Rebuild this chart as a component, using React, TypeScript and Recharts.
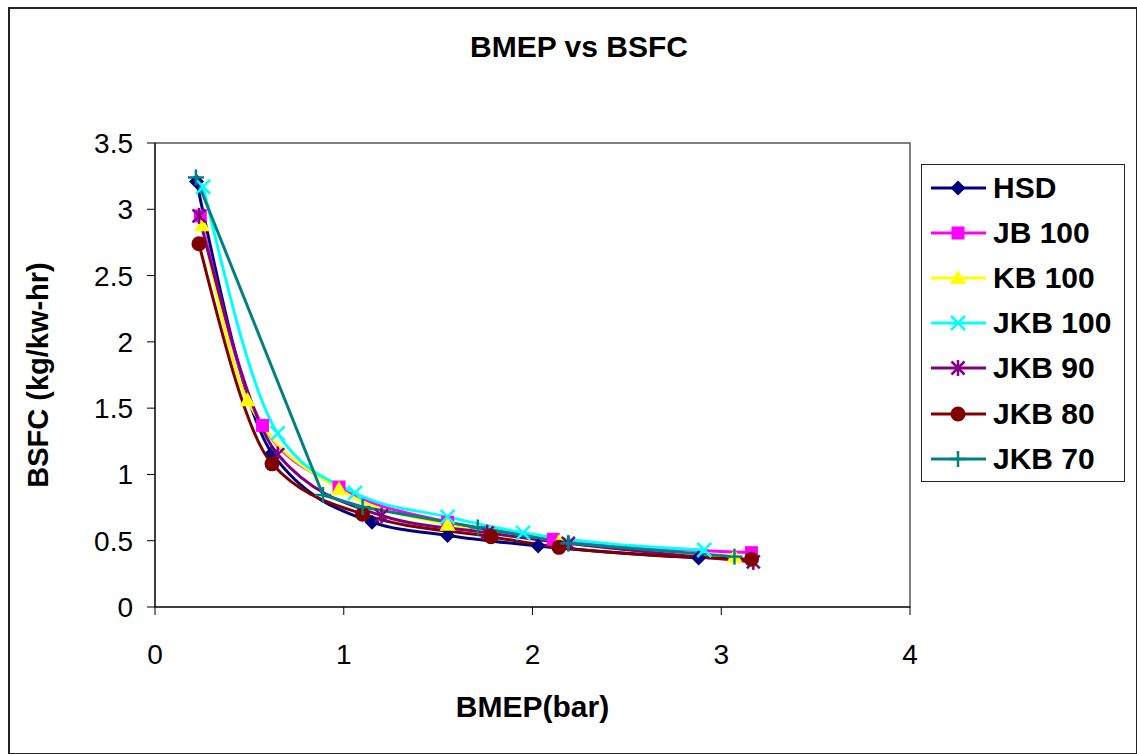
import React from "react";
import {
  LineChart,
  Line,
  XAxis,
  YAxis,
  Legend,
  ReferenceArea,
  Label,
} from "recharts";

// values (BMEP in bar, BSFC in kg/kw-hr)
const HSD_X = [0.22, 0.62, 1.15, 1.55, 2.03, 2.88];
const HSD_Y = [3.21, 1.16, 0.64, 0.54, 0.46, 0.37];
const JB100_X = [0.24, 0.57, 0.975, 1.55, 2.11, 3.16];
const JB100_Y = [2.95, 1.37, 0.905, 0.64, 0.51, 0.41];
const KB100_X = [0.25, 0.49, 0.975, 1.55, 2.14, 3.07];
const KB100_Y = [2.88, 1.56, 0.89, 0.62, 0.49, 0.38];
const JKB100_X = [0.255, 0.65, 1.06, 1.55, 1.95, 2.91];
const JKB100_Y = [3.17, 1.31, 0.86, 0.68, 0.56, 0.43];
const JKB90_X = [0.233, 0.65, 1.2, 1.76, 2.19, 3.17];
const JKB90_Y = [2.95, 1.15, 0.69, 0.56, 0.48, 0.34];
const JKB80_X = [0.233, 0.62, 1.1, 1.78, 2.14, 3.16];
const JKB80_Y = [2.74, 1.08, 0.7, 0.53, 0.45, 0.36];
const JKB70_X = [0.217, 0.89, 1.1, 1.71, 2.19, 3.07];
const JKB70_Y = [3.24, 0.845, 0.754, 0.6, 0.48, 0.38];

const X_TICKS = [0, 1, 2, 3, 4];
const Y_TICKS = [0, 0.5, 1, 1.5, 2, 2.5, 3, 3.5];

const FONT = "'Liberation Sans', Arial, Helvetica, sans-serif";

type Shape = "diamond" | "square" | "triangle" | "x" | "star" | "circle" | "plus";

const zip = (xs: number[], ys: number[]) => xs.map((x, i) => ({ x, y: ys[i] }));

const SERIES: {
  name: string;
  color: string;
  shape: Shape;
  curve: "monotone" | "linear";
  data: { x: number; y: number }[];
}[] = [
  { name: "HSD", color: "#000080", shape: "diamond", curve: "monotone", data: zip(HSD_X, HSD_Y) },
  { name: "JB 100", color: "#FF00FF", shape: "square", curve: "monotone", data: zip(JB100_X, JB100_Y) },
  { name: "KB 100", color: "#FFFF00", shape: "triangle", curve: "monotone", data: zip(KB100_X, KB100_Y) },
  { name: "JKB 100", color: "#00FFFF", shape: "x", curve: "monotone", data: zip(JKB100_X, JKB100_Y) },
  { name: "JKB 90", color: "#800080", shape: "star", curve: "monotone", data: zip(JKB90_X, JKB90_Y) },
  { name: "JKB 80", color: "#800000", shape: "circle", curve: "monotone", data: zip(JKB80_X, JKB80_Y) },
  // the teal series drops almost straight from its first point in the original
  { name: "JKB 70", color: "#008080", shape: "plus", curve: "linear", data: zip(JKB70_X, JKB70_Y) },
];

function Marker({ cx, cy, shape, color }: { cx: number; cy: number; shape: Shape; color: string }) {
  switch (shape) {
    case "diamond":
      return (
        <polygon
          points={`${cx},${cy - 7.5} ${cx + 7.5},${cy} ${cx},${cy + 7.5} ${cx - 7.5},${cy}`}
          fill={color}
        />
      );
    case "square":
      return <rect x={cx - 6.5} y={cy - 6.5} width={13} height={13} fill={color} />;
    case "triangle":
      return (
        <polygon
          points={`${cx},${cy - 8} ${cx + 8},${cy + 6} ${cx - 8},${cy + 6}`}
          fill={color}
        />
      );
    case "x":
      return (
        <g stroke={color} strokeWidth={2.5}>
          <line x1={cx - 7} y1={cy - 7} x2={cx + 7} y2={cy + 7} />
          <line x1={cx - 7} y1={cy + 7} x2={cx + 7} y2={cy - 7} />
        </g>
      );
    case "star":
      return (
        <g stroke={color} strokeWidth={2.5}>
          <line x1={cx - 6.5} y1={cy - 6.5} x2={cx + 6.5} y2={cy + 6.5} />
          <line x1={cx - 6.5} y1={cy + 6.5} x2={cx + 6.5} y2={cy - 6.5} />
          <line x1={cx} y1={cy - 8} x2={cx} y2={cy + 8} />
        </g>
      );
    case "circle":
      return <circle cx={cx} cy={cy} r={7.5} fill={color} />;
    case "plus":
      return (
        <g stroke={color} strokeWidth={2.5}>
          <line x1={cx - 8} y1={cy} x2={cx + 8} y2={cy} />
          <line x1={cx} y1={cy - 8} x2={cx} y2={cy + 8} />
        </g>
      );
  }
  return null;
}

function LegendBox() {
  return (
    <div
      style={{
        width: 202,
        height: 316,
        border: "1.5px solid #222",
        background: "#fff",
        boxSizing: "content-box",
      }}
    >
      {SERIES.map((s) => (
        <div
          key={s.name}
          style={{ height: 45.2, display: "flex", alignItems: "center" }}
        >
          <svg width={70} height={24} style={{ marginLeft: 8, flex: "none" }}>
            <line x1={1} y1={12} x2={56} y2={12} stroke={s.color} strokeWidth={3} />
            <Marker cx={28} cy={12} shape={s.shape} color={s.color} />
          </svg>
          <span
            style={{
              fontFamily: FONT,
              fontWeight: 700,
              fontSize: 30,
              color: "#000",
              marginLeft: -7,
              whiteSpace: "nowrap",
            }}
          >
            {s.name}
          </span>
        </div>
      ))}
    </div>
  );
}

export default function App() {
  return (
    <div style={{ position: "absolute", left: 0, top: 0, width: 1137, height: 754, background: "#fff" }}>
      {/* outer chart frame */}
      <div
        style={{
          position: "absolute",
          left: 8,
          top: 7,
          width: 1126,
          height: 744,
          border: "2px solid #222",
        }}
      />
      <div
        style={{
          position: "absolute",
          left: 0,
          width: 1158,
          top: 30,
          textAlign: "center",
          fontFamily: FONT,
          fontWeight: 700,
          fontSize: 30,
          color: "#000",
        }}
      >
        BMEP vs BSFC
      </div>
      <div style={{ position: "absolute", left: 0, top: 0 }}>
        <LineChart
          width={1137}
          height={754}
          margin={{ top: 143, right: 227, bottom: 0, left: 0 }}
        >
          <ReferenceArea
            x1={0}
            x2={4}
            y1={0}
            y2={3.5}
            fill="none"
            stroke="#555"
            strokeWidth={1.5}
          />
          <XAxis
            type="number"
            dataKey="x"
            domain={[0, 4]}
            ticks={X_TICKS}
            height={147}
            stroke="#000"
            tickSize={8}
            tickMargin={29}
            tick={{ fontSize: 28, fill: "#000", fontFamily: FONT }}
          >
            <Label
              content={({ viewBox }: any) => (
                <text
                  x={viewBox.x + viewBox.width / 2}
                  y={viewBox.y + 99}
                  textAnchor="middle"
                  dominantBaseline="central"
                  fontFamily={FONT}
                  fontWeight={700}
                  fontSize={30}
                  fill="#000"
                >
                  BMEP(bar)
                </text>
              )}
            />
          </XAxis>
          <YAxis
            type="number"
            domain={[0, 3.5]}
            ticks={Y_TICKS}
            width={155}
            stroke="#000"
            tickSize={8}
            tickMargin={14}
            tick={{ fontSize: 28, fill: "#000", fontFamily: FONT }}
          >
            <Label
              content={({ viewBox }: any) => {
                const cx = 38;
                const cy = viewBox.y + viewBox.height / 2;
                return (
                  <text
                    x={cx}
                    y={cy}
                    transform={`rotate(-90 ${cx} ${cy})`}
                    textAnchor="middle"
                    dominantBaseline="central"
                    fontFamily={FONT}
                    fontWeight={700}
                    fontSize={29}
                    fill="#000"
                  >
                    BSFC (kg/kw-hr)
                  </text>
                );
              }}
            />
          </YAxis>
          <Legend
            layout="vertical"
            align="center"
            verticalAlign="middle"
            wrapperStyle={{ left: 921, top: 164, width: 206, height: 320 }}
            content={() => <LegendBox />}
          />
          {SERIES.map((s) => (
            <Line
              key={s.name}
              name={s.name}
              data={s.data}
              dataKey="y"
              type={s.curve}
              stroke={s.color}
              strokeWidth={3}
              isAnimationActive={false}
              activeDot={false}
              dot={(p: any) => (
                <Marker
                  key={`${s.name}-${p.index}`}
                  cx={p.cx}
                  cy={p.cy}
                  shape={s.shape}
                  color={s.color}
                />
              )}
            />
          ))}
        </LineChart>
      </div>
    </div>
  );
}
